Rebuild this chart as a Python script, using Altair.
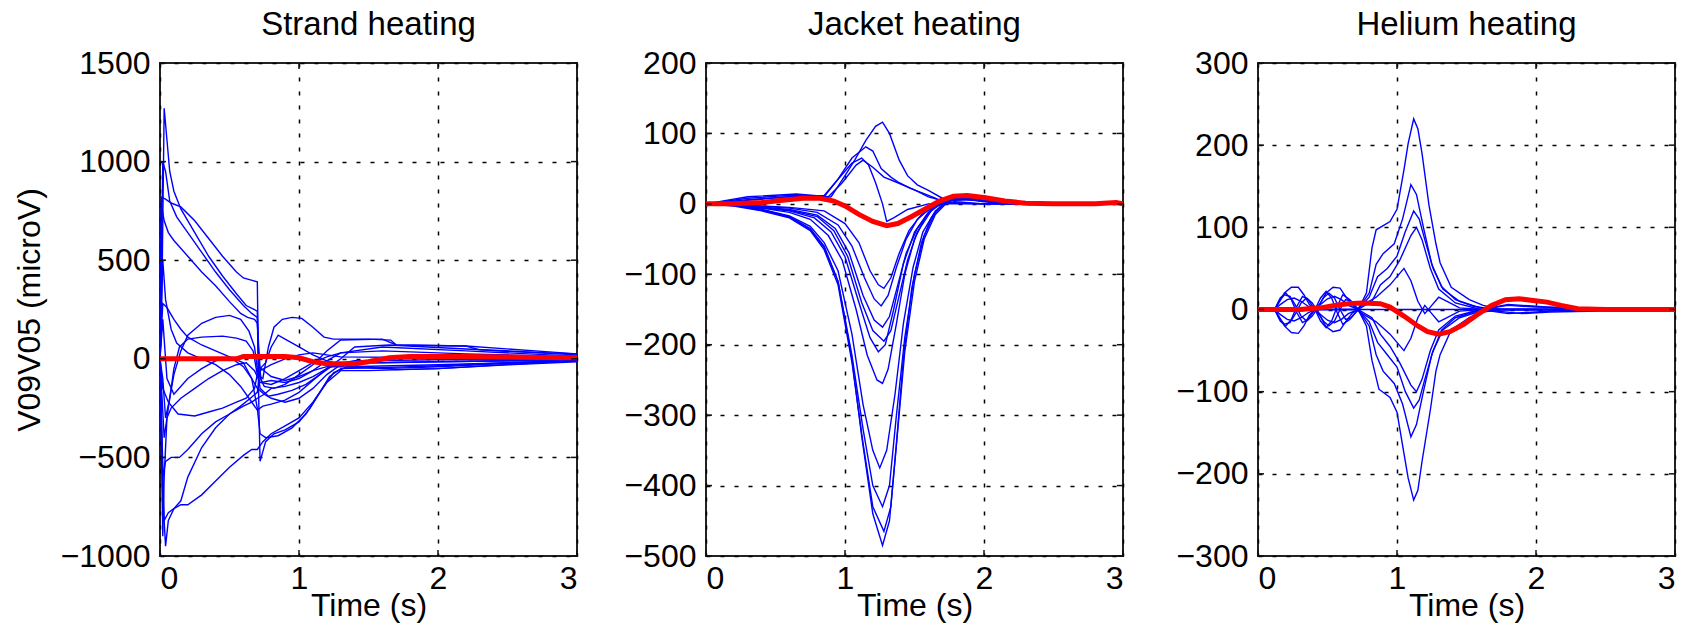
import altair as alt
import pandas as pd

# ---------------- data ----------------
x_ticks = [0, 1, 2, 3]

strand_yticks = [-1000, -500, 0, 500, 1000, 1500]
jacket_yticks = [-500, -400, -300, -200, -100, 0, 100, 200]
helium_yticks = [-300, -200, -100, 0, 100, 200, 300]

# Strand heating: blue traces (t, microV)
strand_c1 = [(0,0),(0.015,400),(0.03,1270),(0.045,1150),(0.07,950),(0.1,850),(0.15,760),(0.25,640),(0.35,520),(0.45,420),(0.55,330),(0.62,270),(0.68,250),(0.7,240),(0.71,-200),(0.72,-520),(0.76,-420),(0.82,-380),(0.9,-360),(1.0,-320),(1.08,-250),(1.15,-170),(1.22,-90),(1.3,-50),(1.6,-45),(2.0,-35),(2.5,-20),(3.0,-8)]
strand_c2 = [(0,0),(0.02,1000),(0.04,950),(0.07,800),(0.12,720),(0.2,640),(0.3,540),(0.4,440),(0.5,350),(0.6,270),(0.66,230),(0.7,210),(0.71,0),(0.73,-120),(0.8,-110),(0.9,-120),(1.0,-100),(1.1,-60),(1.2,-10),(1.3,30),(1.6,60),(2.2,40),(2.8,20),(3.0,15)]
strand_c3 = [(0,0),(0.01,820),(0.04,810),(0.08,790),(0.15,770),(0.25,700),(0.35,610),(0.45,520),(0.55,440),(0.6,410),(0.65,400),(0.7,390),(0.705,150),(0.71,-80),(0.75,-140),(0.82,-150),(0.9,-130),(1.0,-80),(1.1,-30),(1.2,40),(1.3,95),(1.6,100),(1.7,70),(2.2,65),(2.8,35),(3.0,25)]
strand_c4 = [(0,0),(0.01,780),(0.03,700),(0.06,640),(0.1,600),(0.2,520),(0.3,440),(0.4,370),(0.5,290),(0.58,230),(0.63,210),(0.68,200),(0.7,180),(0.72,-50),(0.76,-20),(0.8,60),(0.85,120),(0.9,100),(1.0,60),(1.1,20),(1.2,-10),(1.3,-30),(1.7,-55),(2.0,-50),(2.6,-25),(3.0,-10)]
strand_c5 = [(0,0),(0.02,280),(0.05,260),(0.1,200),(0.15,150),(0.2,110),(0.3,70),(0.4,40),(0.5,10),(0.6,-40),(0.66,-100),(0.7,-150),(0.75,-180),(0.8,-200),(0.9,-220),(1.0,-200),(1.1,-150),(1.2,-80),(1.3,-30),(1.5,-20),(2.0,-15),(3.0,-5)]
strand_c6 = [(0,0),(0.02,-100),(0.04,-300),(0.07,-200),(0.1,-80),(0.15,40),(0.2,120),(0.3,180),(0.4,210),(0.5,220),(0.58,200),(0.64,140),(0.68,60),(0.7,-50),(0.72,-150),(0.78,-190),(0.85,-180),(0.95,-160),(1.05,-130),(1.15,-80),(1.25,-30),(1.4,-10),(2.0,-5),(3.0,0)]
strand_c7 = [(0,0),(0.03,-400),(0.06,-250),(0.1,-50),(0.14,60),(0.2,100),(0.3,110),(0.45,115),(0.55,105),(0.62,90),(0.67,40),(0.7,-80),(0.74,-100),(0.78,60),(0.82,160),(0.88,200),(0.95,210),(1.02,205),(1.1,160),(1.18,110),(1.25,100),(1.5,100),(1.66,95),(1.7,70),(2.2,65),(2.3,45),(3.0,20)]
strand_c8 = [(0,0),(0.02,-600),(0.04,-520),(0.08,-500),(0.14,-500),(0.2,-460),(0.3,-380),(0.4,-320),(0.5,-280),(0.6,-240),(0.66,-220),(0.7,-200),(0.75,-180),(0.8,-150),(0.9,-140),(1.0,-120),(1.1,-90),(1.2,-50),(1.3,-20),(1.6,-20),(2.0,-15),(3.0,-5)]
strand_c9 = [(0,0),(0.02,-700),(0.04,-950),(0.06,-820),(0.1,-760),(0.15,-740),(0.2,-740),(0.3,-690),(0.4,-620),(0.5,-550),(0.6,-490),(0.66,-460),(0.7,-460),(0.74,-420),(0.8,-380),(0.9,-340),(1.0,-300),(1.1,-220),(1.2,-120),(1.3,-60),(1.5,-60),(2.0,-50),(2.5,-30),(3.0,-15)]
strand_c10 = [(0,0),(0.03,-820),(0.06,-780),(0.1,-760),(0.15,-720),(0.2,-600),(0.3,-450),(0.4,-350),(0.5,-280),(0.58,-240),(0.65,-200),(0.7,-170),(0.72,-60),(0.8,-30),(0.9,0),(1.0,20),(1.1,30),(1.2,20),(1.3,10),(2.0,5),(3.0,0)]
strand_c11 = [(0,0),(0.02,-150),(0.06,-220),(0.13,-280),(0.25,-290),(0.35,-270),(0.45,-250),(0.55,-220),(0.62,-200),(0.68,-150),(0.7,-80),(0.73,-50),(0.8,-90),(0.9,-110),(1.0,-90),(1.1,-60),(1.2,-40),(1.3,-40),(1.6,-50),(2.0,-40),(2.6,-20),(3.0,-10)]
strand_c12 = [(0,0),(0.02,200),(0.05,-100),(0.1,-180),(0.2,-100),(0.3,-50),(0.4,-10),(0.5,10),(0.6,-20),(0.66,-100),(0.7,-250),(0.72,-380),(0.76,-400),(0.85,-390),(0.95,-350),(1.05,-280),(1.15,-170),(1.25,-70),(1.35,-40),(2.0,-30),(3.0,-10)]
strand_c13 = [(0,0),(0.02,500),(0.04,300),(0.08,150),(0.12,80),(0.2,30),(0.3,0),(0.4,-30),(0.5,-80),(0.58,-140),(0.64,-200),(0.7,-260),(0.74,-240),(0.8,-230),(0.9,-210),(1.0,-170),(1.1,-110),(1.2,-50),(1.3,0),(1.4,60),(1.65,70),(2.2,50),(2.8,30),(3.0,25)]
strand_c14 = [(0,0),(0.02,-900),(0.03,-600),(0.05,-300),(0.08,-250),(0.15,-200),(0.25,-150),(0.35,-100),(0.45,-60),(0.55,-30),(0.62,-20),(0.68,-60),(0.72,-120),(0.8,-130),(0.9,-100),(1.0,-60),(1.1,-20),(1.2,10),(1.3,30),(1.6,40),(2.2,25),(3.0,10)]
strand_red = [(0,0),(0.55,0),(0.6,12),(0.9,12),(1.0,5),(1.1,-15),(1.2,-25),(1.4,-25),(1.5,-15),(1.65,5),(1.8,12),(2.2,12),(2.6,8),(3.0,5)]

# Jacket heating: blue traces
jacket_p115 = [(0,0),(0.3,5),(0.6,10),(0.8,8),(0.9,10),(1.0,40),(1.07,62),(1.15,90),(1.22,110),(1.27,116),(1.32,100),(1.39,62),(1.45,40),(1.52,27),(1.6,19),(1.7,8),(1.8,3),(2.0,0),(3.0,0)]
jacket_p80 = [(0,0),(0.3,8),(0.6,12),(0.85,10),(0.95,35),(1.05,65),(1.15,81),(1.2,75),(1.26,50),(1.33,38),(1.39,30),(1.47,22),(1.55,16),(1.65,8),(1.71,1),(2.0,0),(3.0,0)]
jacket_p65 = [(0,0),(0.3,6),(0.6,10),(0.85,12),(0.95,35),(1.05,58),(1.12,65),(1.17,55),(1.22,30),(1.27,0),(1.3,-25),(1.35,-20),(1.45,-8),(1.6,0),(3.0,0)]
jacket_p60 = [(0,0),(0.3,10),(0.65,14),(0.88,10),(0.98,30),(1.08,55),(1.13,62),(1.2,52),(1.28,38),(1.38,30),(1.5,20),(1.6,10),(1.75,2),(2.0,0),(3.0,0)]
jacket_n485 = [(0,0),(0.2,-2),(0.4,-8),(0.6,-18),(0.75,-35),(0.85,-60),(0.95,-110),(1.05,-220),(1.12,-330),(1.2,-440),(1.27,-485),(1.32,-450),(1.37,-340),(1.42,-220),(1.48,-120),(1.55,-55),(1.62,-20),(1.7,0),(1.8,8),(1.9,8),(2.0,4),(2.2,0),(3.0,0)]
jacket_n465 = [(0,0),(0.2,-3),(0.4,-10),(0.6,-20),(0.75,-38),(0.85,-65),(0.95,-115),(1.05,-225),(1.13,-340),(1.2,-430),(1.28,-465),(1.33,-430),(1.38,-320),(1.43,-210),(1.5,-110),(1.57,-50),(1.65,-15),(1.75,5),(1.85,10),(2.0,5),(2.2,0),(3.0,0)]
jacket_n430 = [(0,0),(0.2,-2),(0.4,-9),(0.6,-19),(0.75,-36),(0.85,-62),(0.95,-110),(1.05,-215),(1.13,-320),(1.2,-400),(1.27,-430),(1.32,-400),(1.37,-300),(1.43,-190),(1.5,-100),(1.57,-45),(1.65,-12),(1.75,6),(1.85,10),(2.0,5),(2.2,0),(3.0,0)]
jacket_n375 = [(0,0),(0.2,-2),(0.4,-8),(0.6,-17),(0.75,-32),(0.85,-55),(0.95,-95),(1.05,-185),(1.13,-285),(1.2,-350),(1.25,-375),(1.3,-350),(1.36,-270),(1.42,-170),(1.49,-90),(1.56,-40),(1.65,-10),(1.75,6),(1.85,9),(2.0,4),(2.2,0),(3.0,0)]
jacket_n255 = [(0,0),(0.2,-2),(0.4,-6),(0.6,-12),(0.75,-22),(0.88,-45),(0.98,-80),(1.08,-150),(1.16,-215),(1.23,-250),(1.27,-255),(1.31,-235),(1.37,-170),(1.43,-100),(1.5,-50),(1.58,-18),(1.68,2),(1.8,8),(1.95,5),(2.2,0),(3.0,0)]
jacket_n210 = [(0,0),(0.3,-4),(0.6,-10),(0.78,-20),(0.9,-40),(1.0,-75),(1.1,-140),(1.18,-190),(1.24,-210),(1.29,-200),(1.35,-150),(1.42,-85),(1.5,-40),(1.6,-12),(1.7,3),(1.85,8),(2.0,4),(2.2,0),(3.0,0)]
jacket_n195 = [(0,0),(0.3,-3),(0.6,-9),(0.8,-18),(0.92,-38),(1.02,-75),(1.12,-140),(1.2,-180),(1.28,-195),(1.33,-180),(1.39,-130),(1.45,-80),(1.52,-40),(1.62,-10),(1.72,4),(1.85,8),(2.0,4),(2.2,0),(3.0,0)]
jacket_n175 = [(0,0),(0.3,-3),(0.6,-8),(0.8,-16),(0.93,-35),(1.03,-70),(1.13,-130),(1.21,-165),(1.27,-175),(1.32,-160),(1.38,-115),(1.44,-70),(1.52,-35),(1.62,-8),(1.72,4),(1.85,7),(2.0,3),(2.2,0),(3.0,0)]
jacket_n145 = [(0,0),(0.3,-2),(0.6,-6),(0.8,-12),(0.95,-30),(1.05,-60),(1.14,-105),(1.21,-135),(1.26,-145),(1.31,-130),(1.37,-90),(1.44,-50),(1.52,-22),(1.62,-5),(1.75,5),(1.9,6),(2.1,2),(3.0,0)]
jacket_n120 = [(0,0),(0.3,-2),(0.6,-5),(0.85,-10),(1.0,-28),(1.1,-55),(1.18,-95),(1.24,-115),(1.28,-120),(1.33,-105),(1.39,-70),(1.46,-38),(1.55,-15),(1.65,-3),(1.78,5),(1.9,6),(2.1,2),(3.0,0)]
jacket_red = [(0,0),(0.2,0),(0.4,2),(0.55,5),(0.7,8),(0.82,8),(0.92,4),(1.0,-3),(1.1,-15),(1.2,-25),(1.3,-31),(1.38,-28),(1.48,-18),(1.58,-7),(1.68,4),(1.78,11),(1.88,12),(2.0,9),(2.15,4),(2.3,1),(2.5,0),(2.8,0),(2.95,2),(3.0,0)]

# Helium heating: blue traces
helium_q1 = [(0,0),(0.12,0),(0.15,8),(0.19,20),(0.24,27),(0.29,27),(0.33,18),(0.37,6),(0.41,0),(0.45,8),(0.49,20),(0.54,27),(0.59,26),(0.63,16),(0.68,5),(0.72,0),(0.78,20),(0.82,75),(0.85,97),(0.95,107),(1.0,122),(1.05,170),(1.08,202),(1.12,232),(1.15,220),(1.18,190),(1.23,127),(1.28,80),(1.31,57),(1.39,27),(1.52,12),(1.62,5),(1.75,0),(3.0,0)]
helium_q2 = [(0,0),(0.12,0),(0.15,-8),(0.19,-20),(0.24,-28),(0.29,-29),(0.33,-20),(0.37,-7),(0.41,0),(0.45,-9),(0.49,-21),(0.54,-27),(0.59,-25),(0.63,-15),(0.68,-4),(0.72,0),(0.78,-20),(0.82,-62),(0.87,-97),(0.95,-107),(1.0,-125),(1.05,-175),(1.08,-205),(1.12,-232),(1.15,-220),(1.18,-185),(1.24,-122),(1.28,-75),(1.31,-55),(1.39,-25),(1.52,-10),(1.62,-3),(1.75,0),(3.0,0)]
helium_q3 = [(0,0),(0.12,0),(0.15,10),(0.19,18),(0.23,16),(0.27,5),(0.31,-8),(0.35,-14),(0.39,-8),(0.43,2),(0.47,14),(0.51,20),(0.55,14),(0.59,0),(0.63,-12),(0.67,-10),(0.72,0),(0.8,20),(0.85,55),(0.9,68),(0.98,80),(1.04,110),(1.1,152),(1.14,140),(1.19,100),(1.25,55),(1.32,28),(1.42,12),(1.55,4),(1.7,0),(3.0,0)]
helium_q4 = [(0,0),(0.12,0),(0.15,-10),(0.19,-18),(0.23,-16),(0.27,-5),(0.31,8),(0.35,14),(0.39,8),(0.43,-2),(0.47,-14),(0.51,-20),(0.55,-14),(0.59,0),(0.63,12),(0.67,10),(0.72,0),(0.8,-20),(0.85,-55),(0.9,-75),(0.98,-90),(1.04,-115),(1.1,-155),(1.14,-140),(1.19,-100),(1.25,-55),(1.32,-25),(1.42,-10),(1.55,-3),(1.7,0),(3.0,0)]
helium_q5 = [(0,0),(0.12,0),(0.16,6),(0.21,12),(0.26,14),(0.31,10),(0.36,4),(0.41,0),(0.45,6),(0.5,13),(0.55,16),(0.6,12),(0.65,5),(0.72,0),(0.8,15),(0.86,40),(0.93,50),(1.0,65),(1.06,95),(1.12,120),(1.16,110),(1.2,85),(1.26,50),(1.33,25),(1.45,10),(1.6,2),(1.75,0),(3.0,0)]
helium_q6 = [(0,0),(0.12,0),(0.16,-6),(0.21,-12),(0.26,-14),(0.31,-10),(0.36,-4),(0.41,0),(0.45,-6),(0.5,-13),(0.55,-16),(0.6,-12),(0.65,-5),(0.72,0),(0.8,-15),(0.86,-40),(0.93,-55),(1.0,-70),(1.06,-100),(1.12,-120),(1.16,-110),(1.2,-85),(1.26,-50),(1.33,-25),(1.45,-10),(1.6,-2),(1.75,0),(3.0,0)]
helium_q7 = [(0,0),(0.12,0),(0.16,14),(0.2,20),(0.24,12),(0.28,-4),(0.32,-16),(0.36,-12),(0.41,0),(0.45,14),(0.49,22),(0.53,14),(0.57,-4),(0.61,-18),(0.66,-12),(0.72,0),(0.82,10),(0.88,30),(0.95,40),(1.02,60),(1.1,90),(1.14,100),(1.18,85),(1.24,50),(1.3,25),(1.42,8),(1.6,0),(1.8,6),(2.0,4),(2.3,0),(3.0,0)]
helium_q8 = [(0,0),(0.12,0),(0.16,-14),(0.2,-20),(0.24,-12),(0.28,4),(0.32,16),(0.36,12),(0.41,0),(0.45,-14),(0.49,-22),(0.53,-14),(0.57,4),(0.61,18),(0.66,12),(0.72,0),(0.82,-10),(0.88,-30),(0.95,-45),(1.02,-65),(1.1,-92),(1.14,-100),(1.18,-85),(1.24,-50),(1.3,-25),(1.42,-8),(1.6,0),(1.8,-5),(2.0,-3),(2.3,0),(3.0,0)]
helium_q9 = [(0,0),(0.7,0),(0.85,15),(0.95,30),(1.05,50),(1.1,35),(1.15,10),(1.2,-5),(1.25,5),(1.3,15),(1.36,10),(1.45,2),(1.6,0),(1.8,5),(2.0,3),(3.0,0)]
helium_q10 = [(0,0),(0.7,0),(0.85,-15),(0.95,-30),(1.05,-50),(1.1,-35),(1.15,-10),(1.2,5),(1.25,-5),(1.3,-15),(1.36,-10),(1.45,-2),(1.6,0),(1.9,-5),(2.1,-3),(3.0,0)]
helium_q11 = [(0,0),(3.0,0)]
helium_red = [(0,0),(0.3,0),(0.45,2),(0.55,5),(0.65,7),(0.75,8),(0.88,7),(0.95,3),(1.05,-8),(1.15,-20),(1.22,-27),(1.3,-30),(1.38,-27),(1.48,-18),(1.58,-6),(1.68,5),(1.78,12),(1.88,13),(1.98,11),(2.08,9),(2.18,5),(2.3,1),(2.5,0),(3.0,0)]

strand_blue = [strand_c1, strand_c2, strand_c3, strand_c4, strand_c5, strand_c6, strand_c7,
               strand_c8, strand_c9, strand_c10, strand_c11, strand_c12, strand_c13, strand_c14]
jacket_blue = [jacket_p115, jacket_p80, jacket_p65, jacket_p60, jacket_n485, jacket_n465, jacket_n430,
               jacket_n375, jacket_n255, jacket_n210, jacket_n195, jacket_n175, jacket_n145, jacket_n120]
helium_blue = [helium_q1, helium_q2, helium_q3, helium_q4, helium_q5, helium_q6, helium_q7,
               helium_q8, helium_q9, helium_q10, helium_q11]

# ---------------- helpers ----------------
FONT = "Liberation Sans"
FS = 32
W, H = 417, 493
TICK = 6


def to_frame(curves):
    rows = []
    for cid, pts in enumerate(curves):
        for i, (t, v) in enumerate(pts):
            rows.append({"curve": cid, "i": i, "t": t, "v": v})
    return pd.DataFrame(rows)


def panel(blue, red, ydom, yticks, title, ytitle, extent):
    xenc = alt.X("t:Q", scale=alt.Scale(domain=[0, 3], nice=False, zero=False),
                 axis=alt.Axis(values=x_ticks, title="Time (s)", format="d"))
    if ytitle:
        yaxis = alt.Axis(values=yticks, format="d", title=ytitle, minExtent=extent, maxExtent=extent)
    else:
        yaxis = alt.Axis(values=yticks, format="d", title=None, minExtent=extent, maxExtent=extent)
    yenc = alt.Y("v:Q", scale=alt.Scale(domain=ydom, nice=False, zero=False), axis=yaxis)

    blue_df = to_frame(blue)
    red_df = to_frame([red])

    blue_l = alt.Chart(blue_df).mark_line(color="#0000ff", strokeWidth=1.4, clip=True).encode(
        x=xenc, y=yenc, detail="curve:N", order="i:Q")
    red_l = alt.Chart(red_df).mark_line(color="#ff0000", strokeWidth=5, clip=True).encode(
        x=xenc, y=yenc, order="i:Q")

    xt = pd.DataFrame({"t": x_ticks})
    yt = pd.DataFrame({"v": yticks})
    tb = alt.Chart(xt).mark_rule(color="#111", strokeWidth=1.5).encode(
        x=xenc, y=alt.value(H), y2=alt.value(H - TICK))
    tt = alt.Chart(xt).mark_rule(color="#111", strokeWidth=1.5).encode(
        x=xenc, y=alt.value(0), y2=alt.value(TICK))
    tl = alt.Chart(yt).mark_rule(color="#111", strokeWidth=1.5).encode(
        y=yenc, x=alt.value(0), x2=alt.value(TICK))
    tr = alt.Chart(yt).mark_rule(color="#111", strokeWidth=1.5).encode(
        y=yenc, x=alt.value(W - TICK), x2=alt.value(W))

    return alt.layer(blue_l, red_l, tb, tt, tl, tr).properties(
        width=W, height=H,
        title=alt.TitleParams(title, fontSize=33, font=FONT, fontWeight="normal",
                              color="#000", offset=5, anchor="middle"))


p1 = panel(strand_blue, strand_red, [-1000, 1500], strand_yticks, "Strand heating", "V09V05 (microV)", 100)
p2 = panel(jacket_blue, jacket_red, [-500, 200], jacket_yticks, "Jacket heating", None, 100)
p3 = panel(helium_blue, helium_red, [-300, 300], helium_yticks, "Helium heating", None, 106)

chart = alt.hconcat(p1, p2, p3, spacing=26).properties(
    padding={"left": 12, "top": 8, "right": 5, "bottom": 5}
).configure_view(
    stroke="#222", strokeWidth=2
).configure_axis(
    grid=True, gridColor="#000", gridDash=[4, 10], gridWidth=1.5, gridOpacity=1,
    domain=False, ticks=False,
    labelFont=FONT, labelFontSize=FS, labelColor="#000",
    titleFont=FONT, titleFontSize=FS, titleColor="#000", titleFontWeight="normal",
).configure_axisX(
    labelPadding=7, titlePadding=-4
).configure_axisY(
    labelPadding=10, titlePadding=14
)

chart.save("out.html", embed_options={"renderer": "svg", "actions": False})
